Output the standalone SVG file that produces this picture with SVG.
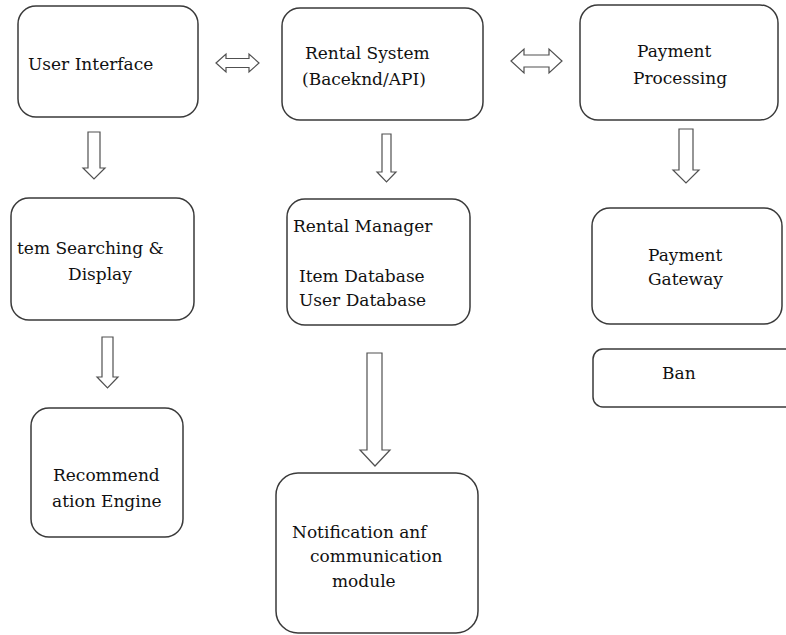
<svg xmlns="http://www.w3.org/2000/svg" width="786" height="635" viewBox="0 0 786 635">
<style>
.box{fill:#fff;stroke:#3a3a3a;stroke-width:1.5}
.arr{fill:#fff;stroke:#505050;stroke-width:1.2;stroke-linejoin:miter}
.t{font-family:'DejaVu Serif','Liberation Serif',serif;font-size:17px;fill:#111}
</style>
<rect width="786" height="635" fill="#fff"/>
<g id="connectors">
<path class="arr" d="M216,63 L226,54 L226,58.5 L249,58.5 L249,54 L259,63 L249,72 L249,67.5 L226,67.5 L226,72 Z"/>
<path class="arr" d="M511,61 L524,49 L524,55 L549,55 L549,49 L562,61 L549,73 L549,67 L524,67 L524,73 Z"/>
<path class="arr" d="M88,132 L100,132 L100,168 L105,168 L94,179 L83,168 L88,168 Z"/>
<path class="arr" d="M382,134 L391,134 L391,172 L396,172 L386.5,182 L377,172 L382,172 Z"/>
<path class="arr" d="M679,129 L693,129 L693,170 L699,170 L686,183 L673,170 L679,170 Z"/>
<path class="arr" d="M102,337 L113,337 L113,377 L118,377 L107.5,388 L97,377 L102,377 Z"/>
<path class="arr" d="M367,353 L382,353 L382,450 L390,450 L375,466 L360,450 L367,450 Z"/>
</g>
<g id="user-interface">
<rect class="box" x="18" y="6" width="180" height="111" rx="18"/>
<text class="t" x="28" y="70">User Interface</text>
</g>
<g id="rental-system">
<rect class="box" x="282" y="8" width="201" height="112" rx="18"/>
<text class="t" x="305" y="59">Rental System</text>
<text class="t" x="302" y="85">(Baceknd/API)</text>
</g>
<g id="payment-processing">
<rect class="box" x="580" y="5" width="198" height="115" rx="18"/>
<text class="t" x="637" y="57">Payment</text>
<text class="t" x="633" y="84">Processing</text>
</g>
<g id="item-searching">
<rect class="box" x="11" y="198" width="183" height="122" rx="18"/>
<text class="t" x="17" y="254">tem Searching &amp;</text>
<text class="t" x="68" y="280">Display</text>
</g>
<g id="rental-manager">
<rect class="box" x="287" y="199" width="183" height="126" rx="18"/>
<text class="t" x="293" y="232">Rental Manager</text>
<text class="t" x="299" y="282">Item Database</text>
<text class="t" x="299" y="306">User Database</text>
</g>
<g id="payment-gateway">
<rect class="box" x="592" y="208" width="190" height="116" rx="18"/>
<text class="t" x="648" y="261">Payment</text>
<text class="t" x="648" y="285">Gateway</text>
</g>
<g id="ban">
<rect class="box" x="593" y="349" width="230" height="58" rx="10"/>
<text class="t" x="662" y="379">Ban</text>
</g>
<g id="recommendation-engine">
<rect class="box" x="31" y="408" width="152" height="129" rx="18"/>
<text class="t" x="53" y="481">Recommend</text>
<text class="t" x="52" y="507">ation Engine</text>
</g>
<g id="notification-module">
<rect class="box" x="276" y="473" width="202" height="160" rx="22"/>
<text class="t" x="292" y="538">Notification anf</text>
<text class="t" x="310" y="562">communication</text>
<text class="t" x="332" y="587">module</text>
</g>
</svg>
